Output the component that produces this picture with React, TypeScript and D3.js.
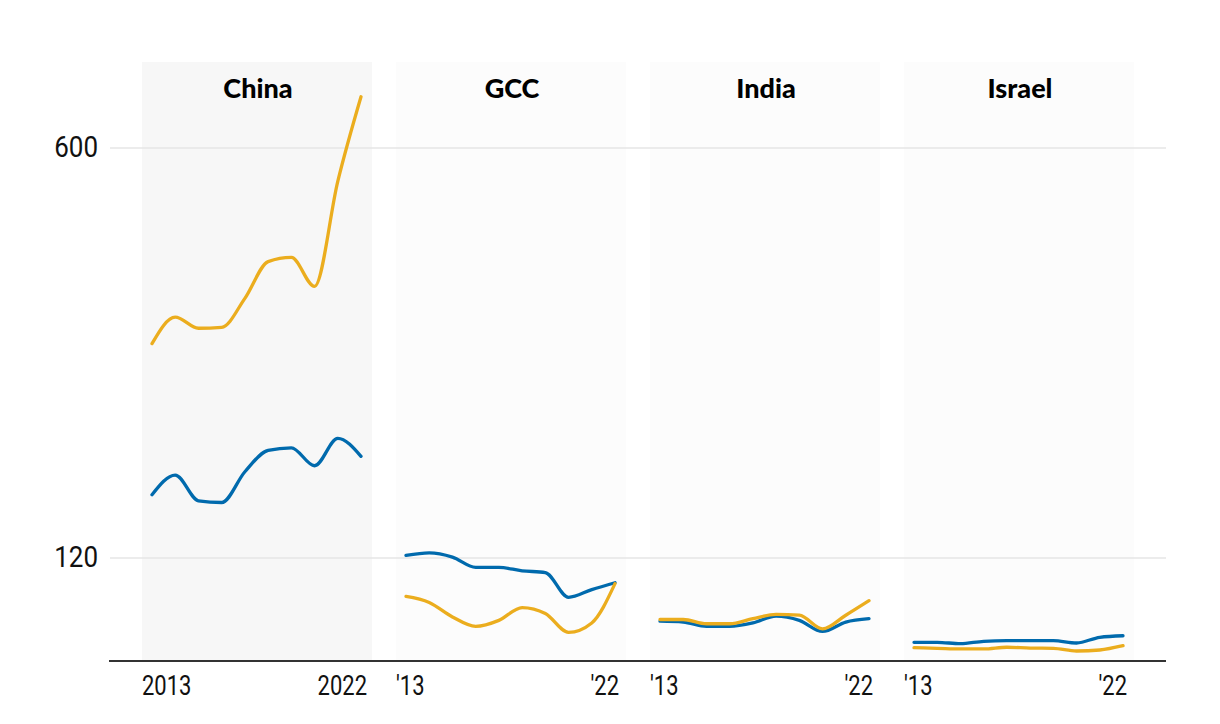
import React from "react";
import * as d3 from "d3";

const years = [2013, 2014, 2015, 2016, 2017, 2018, 2019, 2020, 2021, 2022];
const panels = ["China", "GCC", "India", "Israel"];
const yTicks = [120, 600];

const chinaOrange = [371, 402, 389, 390, 424, 467, 472, 438, 561, 660];
const chinaBlue = [194, 217, 187, 185, 221, 246, 249, 228, 260, 239];
const gccOrange = [75, 68, 51, 40, 47, 62, 55, 33, 44, 90];
const gccBlue = [123, 126, 121, 109, 109, 105, 103, 74, 83, 91];
const indiaOrange = [48, 48, 43, 43, 49, 54, 53, 37, 53, 70];
const indiaBlue = [46, 45, 40, 40, 44, 52, 47, 34, 45, 49];
const israelOrange = [15, 14.3, 13.5, 13.5, 15.5, 14.6, 14.3, 11.1, 12.3, 17.3];
const israelBlue = [21.3, 21.3, 19.7, 22.5, 23.2, 23.2, 23.2, 20.5, 27.2, 29];

const orangeSeries = [chinaOrange, gccOrange, indiaOrange, israelOrange];
const blueSeries = [chinaBlue, gccBlue, indiaBlue, israelBlue];

const ORANGE = "#EBAD1E";
const BLUE = "#006AAD";

export default function App() {
  const W = 1220;
  const H = 724;
  const panelLeft0 = 142;
  const panelW = 230;
  const panelStep = 254;
  const top = 62;
  const y = d3.scaleLinear().domain([0, 600]).range([660.5, 148]);
  const x = d3.scaleLinear().domain([2013, 2022]).range([10, 219]);
  const line = (vals: number[]) =>
    d3
      .line<number>()
      .x((_, i) => x(years[i]))
      .y((v) => y(v))
      .curve(d3.curveMonotoneX)(vals) || "";
  const font = "Roboto, 'Noto Sans', sans-serif";
  const titleFont = "Lato, 'Open Sans', sans-serif";

  const xLabel = (i: number, k: number) =>
    i === 0 ? String(years[k]) : "'" + String(years[k]).slice(2);

  return (
    <svg width={W} height={H} style={{ position: "absolute", left: 0, top: 0 }}>
      <rect width={W} height={H} fill="#fff" />
      {panels.map((p, i) => (
        <rect
          key={"bg" + p}
          x={panelLeft0 + i * panelStep}
          y={top}
          width={panelW}
          height={661 - top}
          fill={i === 0 ? "#f7f7f7" : "#fcfcfc"}
        />
      ))}
      {yTicks.map((t) => (
        <g key={"t" + t}>
          <line x1={110} x2={1166} y1={y(t)} y2={y(t)} stroke="#e6e6e6" strokeWidth={1.5} />
          <g transform={`translate(98,${y(t) + 9}) scale(1,1.12)`}>
            <text x={0} y={0} textAnchor="end" fontFamily={font} fontSize={26} fill="#111">
              {t}
            </text>
          </g>
        </g>
      ))}
      {panels.map((p, i) => {
        const ox = panelLeft0 + i * panelStep;
        return (
          <g key={p} transform={`translate(${ox},0)`}>
            <text
              x={panelW / 2 + 1}
              y={98}
              textAnchor="middle"
              fontFamily={titleFont}
              fontWeight={900}
              fontSize={27}
              fill="#000"
            >
              {p}
            </text>
            <path d={line(blueSeries[i])} fill="none" stroke={BLUE} strokeWidth={3.3} strokeLinecap="round" strokeLinejoin="round" />
            <path d={line(orangeSeries[i])} fill="none" stroke={ORANGE} strokeWidth={3.3} strokeLinecap="round" strokeLinejoin="round" />
            <g transform={`translate(0,695) scale(1,1.22)`}>
              <text x={0} y={0} textAnchor="start" fontFamily={font} fontSize={22} fill="#111">
                {xLabel(i, 0)}
              </text>
              <text x={i === 0 ? 225 : 223} y={0} textAnchor="end" fontFamily={font} fontSize={22} fill="#111">
                {xLabel(i, 9)}
              </text>
            </g>
          </g>
        );
      })}
      <line x1={109} x2={1166} y1={661} y2={661} stroke="#333" strokeWidth={2} />
    </svg>
  );
}
